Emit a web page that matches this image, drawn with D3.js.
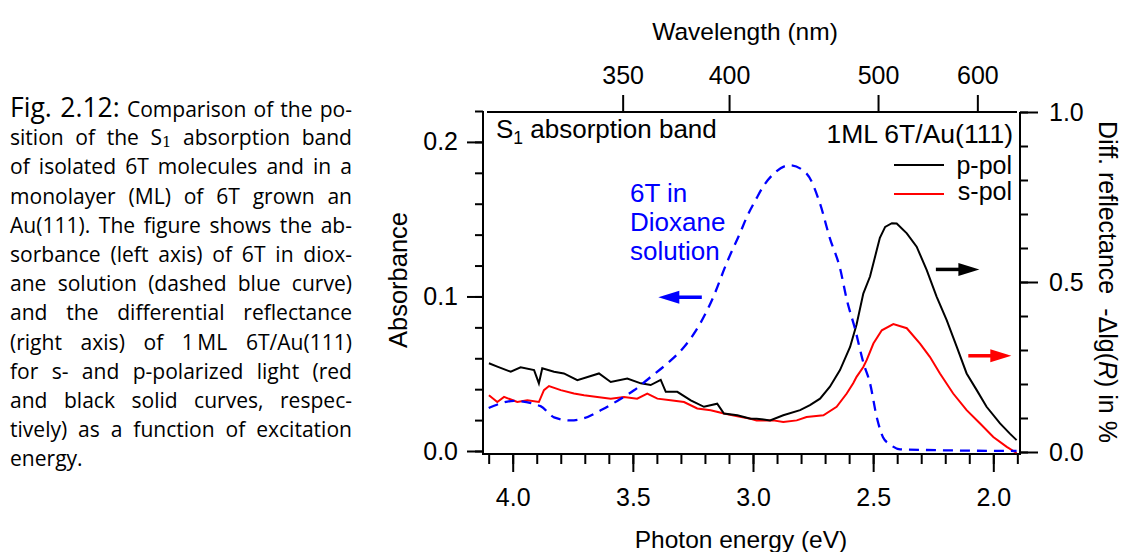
<!DOCTYPE html>
<html>
<head>
<meta charset="utf-8">
<script src="https://cdn.jsdelivr.net/npm/d3@7"></script>
<style>
    body { margin: 0; background: #fff; }
    #wrap { position: relative; width: 1122px; height: 552px; overflow: hidden; }
    #caption { position: absolute; left: 10px; top: 93px; width: 342px; font-family: 'Open Sans', sans-serif; font-size: 20px; color: #000; }
    #caption .ln { height: 29.2px; line-height: 29.2px; text-align: justify; text-align-last: justify; white-space: nowrap; }
    #caption .ln.last { text-align-last: left; }
    #caption .fig { font-size: 1.26em; }
    #caption sub { font-family: 'DejaVu Serif', serif; font-size: 0.7em; vertical-align: -0.12em; line-height: 0; }
    #chart { position: absolute; left: 0; top: 0; }
</style>
</head>
<body>
<div id="wrap">
    <div id="caption"></div>
    <svg id="chart" width="1122" height="552"></svg>
</div>
<script>
// Caption lines (as typeset in the reference)
const captionLines = [
    '<span class="fig">Fig. 2.12:</span> Comparison of the po-',
    'sition of the S<sub>1</sub> absorption band',
    'of isolated 6T molecules and in a',
    'monolayer (ML) of 6T grown an',
    'Au(111). The figure shows the ab-',
    'sorbance (left axis) of 6T in diox-',
    'ane solution (dashed blue curve)',
    'and the differential reflectance',
    '(right axis) of 1\u2009ML 6T/Au(111)',
    'for s- and p-polarized light (red',
    'and black solid curves, respec-',
    'tively) as a function of excitation',
    'energy.'
];

// 6T in dioxane: absorbance (left axis)
const blueEnergy = [4.100, 3.995, 3.884, 3.828, 3.759, 3.703, 3.634, 3.565, 3.495, 3.426,
    3.357, 3.287, 3.239, 3.165, 3.110, 3.054, 3.026, 2.985, 2.957, 2.916,
    2.846, 2.777, 2.721, 2.680, 2.638, 2.609, 2.576, 2.540, 2.513, 2.484,
    2.459, 2.430, 2.388, 2.222, 1.903];
const blueAbs = [0.0278, 0.0324, 0.0290, 0.0218, 0.0198, 0.0212, 0.0263, 0.0324, 0.0393, 0.0479,
    0.0566, 0.0673, 0.0775, 0.0997, 0.1215, 0.1410, 0.1513, 0.1636, 0.1713, 0.1791,
    0.1849, 0.1795, 0.1600, 0.1376, 0.1183, 0.0975, 0.0794, 0.0568, 0.0438, 0.0212,
    0.0089, 0.0043, 0.0011, 0.0005, 0.0];

// 1ML 6T/Au(111), p-pol: differential reflectance (right axis, %)
const pEnergy = [4.099, 4.064, 4.008, 3.967, 3.911, 3.891, 3.877, 3.828, 3.787, 3.731,
    3.641, 3.592, 3.523, 3.467, 3.426, 3.384, 3.363, 3.315, 3.259, 3.204,
    3.149, 3.121, 3.065, 3.010, 2.985, 2.929, 2.874, 2.804, 2.763, 2.721,
    2.680, 2.638, 2.596, 2.569, 2.541, 2.513, 2.485, 2.472, 2.450, 2.422, 2.402,
    2.360, 2.319, 2.277, 2.236, 2.194, 2.152, 2.111, 2.069, 2.028, 1.972,
    1.931, 1.903];
const pDiff = [0.261, 0.251, 0.236, 0.249, 0.241, 0.202, 0.246, 0.236, 0.231, 0.211,
    0.231, 0.206, 0.216, 0.202, 0.197, 0.212, 0.177, 0.177, 0.152, 0.133,
    0.142, 0.113, 0.108, 0.098, 0.098, 0.093, 0.108, 0.123, 0.138, 0.157,
    0.192, 0.241, 0.309, 0.375, 0.466, 0.516, 0.594, 0.630, 0.662, 0.673, 0.672,
    0.643, 0.604, 0.535, 0.457, 0.388, 0.309, 0.231, 0.182, 0.133, 0.084,
    0.054, 0.035];

// 1ML 6T/Au(111), s-pol
const sEnergy = [4.099, 4.064, 4.036, 3.981, 3.939, 3.891, 3.870, 3.849, 3.800, 3.745,
    3.703, 3.648, 3.592, 3.537, 3.482, 3.440, 3.398, 3.343, 3.287, 3.232,
    3.176, 3.121, 3.065, 3.010, 2.985, 2.916, 2.874, 2.818, 2.777, 2.707,
    2.652, 2.610, 2.583, 2.569, 2.541, 2.527, 2.499, 2.464, 2.416, 2.360,
    2.305, 2.264, 2.222, 2.167, 2.111, 2.055, 2.000, 1.944, 1.903];
const sDiff = [0.167, 0.147, 0.162, 0.147, 0.152, 0.147, 0.182, 0.194, 0.182, 0.172,
    0.167, 0.162, 0.157, 0.162, 0.157, 0.172, 0.157, 0.152, 0.147, 0.128,
    0.123, 0.113, 0.105, 0.098, 0.093, 0.093, 0.088, 0.093, 0.103, 0.108,
    0.133, 0.172, 0.202, 0.221, 0.250, 0.270, 0.319, 0.358, 0.376, 0.364,
    0.319, 0.280, 0.231, 0.172, 0.123, 0.084, 0.044, 0.015, -0.003];

// Axis ticks
const energyMajor = [4.0, 3.5, 3.0, 2.5, 2.0];
const wavelengthTicks = [350, 400, 500, 600];
const absMajor = [0.0, 0.1, 0.2];
const diffMajor = [0.0, 0.5, 1.0];

const HC = 1239.84; // eV nm

function drawCaption() {
    const cap = d3.select('#caption');

    // size the caption font so the widest line just fills the column
    const probe = cap.append('span').style('white-space', 'nowrap').style('visibility', 'hidden')
        .style('position', 'absolute');
    let widest = 0;
    captionLines.forEach(l => {
        probe.html(l);
        widest = Math.max(widest, probe.node().getBoundingClientRect().width);
    });
    probe.remove();
    const size = 20 * 334 / widest;
    cap.style('font-size', size + 'px');

    cap.selectAll('.ln')
        .data(captionLines)
        .enter()
        .append('div')
        .attr('class', (d, i) => i === captionLines.length - 1 ? 'ln last' : 'ln')
        .html(d => d);
}

function drawChart() {
    const svg = d3.select('#chart');
    const font = "'Liberation Sans', Arial, sans-serif";

    // plot frame in pixels
    const left = 483, right = 1020, top = 112, bottom = 454;

    const x = d3.scaleLinear().domain([4.1236, 1.8889]).range([left, right]);
    const yL = d3.scaleLinear().domain([0, 0.22]).range([451, 111]);
    const yR = d3.scaleLinear().domain([0, 1]).range([452, 112]);

    // Frame
    const frame = svg.append('g').attr('stroke', '#000').attr('stroke-width', 2);
    frame.append('line').attr('x1', left).attr('x2', left).attr('y1', 111).attr('y2', bottom + 1);
    frame.append('line').attr('x1', left).attr('x2', right + 1).attr('y1', bottom).attr('y2', bottom);
    frame.append('line').attr('x1', right).attr('x2', right).attr('y1', top).attr('y2', bottom + 1);
    frame.append('line').attr('x1', left + 4).attr('x2', right - 3).attr('y1', top).attr('y2', top);

    function styleAxis(g) {
        g.select('.domain').remove();
        g.selectAll('line').attr('stroke', '#000').attr('stroke-width', 2);
        g.selectAll('text').attr('fill', '#000').attr('font-family', font).attr('font-size', '25px');
    }

    // Bottom axis: photon energy
    svg.append('g')
        .attr('transform', `translate(0,${bottom})`)
        .call(d3.axisBottom(x).tickValues(d3.range(19, 42).map(d => d / 10)).tickSize(10).tickFormat(''))
        .call(styleAxis);
    svg.append('g')
        .attr('transform', `translate(0,${bottom})`)
        .call(d3.axisBottom(x).tickValues(energyMajor).tickSize(18).tickPadding(16).tickFormat(d3.format('.1f')))
        .call(styleAxis);

    // Top axis: wavelength
    svg.append('g')
        .attr('transform', `translate(0,${top})`)
        .call(d3.axisTop(x).tickValues(wavelengthTicks.map(nm => HC / nm)).tickSize(17).tickPadding(11)
            .tickFormat(e => Math.round(HC / e)))
        .call(styleAxis);

    // Left axis: absorbance
    svg.append('g')
        .attr('transform', `translate(${left},0)`)
        .call(d3.axisLeft(yL).tickValues(d3.range(0, 12).map(d => d * 0.02)).tickSize(8).tickFormat(''))
        .call(styleAxis);
    svg.append('g')
        .attr('transform', `translate(${left},0)`)
        .call(d3.axisLeft(yL).tickValues(absMajor).tickSize(16).tickPadding(9).tickFormat(d3.format('.1f')))
        .call(styleAxis);

    // Right axis: differential reflectance
    svg.append('g')
        .attr('transform', `translate(${right},0)`)
        .call(d3.axisRight(yR).tickValues(d3.range(0, 11).map(d => d / 10)).tickSize(8).tickFormat(''))
        .call(styleAxis);
    svg.append('g')
        .attr('transform', `translate(${right},0)`)
        .call(d3.axisRight(yR).tickValues(diffMajor).tickSize(18).tickPadding(11).tickFormat(d3.format('.1f')))
        .call(styleAxis);

    // Axis titles
    svg.append('text')
        .attr('x', 745).attr('y', 40)
        .attr('text-anchor', 'middle')
        .attr('font-family', font).attr('font-size', '24.5px')
        .text('Wavelength (nm)');

    svg.append('text')
        .attr('x', 741).attr('y', 548)
        .attr('text-anchor', 'middle')
        .attr('font-family', font).attr('font-size', '24.5px')
        .text('Photon energy (eV)');

    svg.append('text')
        .attr('transform', 'translate(407,280) rotate(-90)')
        .attr('text-anchor', 'middle')
        .attr('font-family', font).attr('font-size', '25.5px')
        .text('Absorbance');

    const rLabel = svg.append('text')
        .attr('transform', 'translate(1099,282) rotate(90)')
        .attr('text-anchor', 'middle')
        .attr('font-family', font).attr('font-size', '25px')
        .attr('xml:space', 'preserve');
    rLabel.append('tspan').text('Diff. reflectance\u00a0\u00a0-\u0394lg(');
    rLabel.append('tspan').attr('font-style', 'italic').text('R');
    rLabel.append('tspan').text(') in %');

    // Curves
    const blueData = blueEnergy.map((e, i) => ({ e, v: blueAbs[i] }));
    const pData = pEnergy.map((e, i) => ({ e, v: pDiff[i] }));
    const sData = sEnergy.map((e, i) => ({ e, v: sDiff[i] }));

    const lineL = d3.line().x(d => x(d.e)).y(d => yL(d.v)).curve(d3.curveMonotoneX);
    const lineR = d3.line().x(d => x(d.e)).y(d => yR(d.v));

    svg.append('path')
        .datum(sData)
        .attr('d', lineR)
        .attr('fill', 'none')
        .attr('stroke', '#ff0000')
        .attr('stroke-width', 2);

    svg.append('path')
        .datum(pData)
        .attr('d', lineR)
        .attr('fill', 'none')
        .attr('stroke', '#000')
        .attr('stroke-width', 2);

    svg.append('path')
        .datum(blueData)
        .attr('d', lineL)
        .attr('fill', 'none')
        .attr('stroke', '#0000ff')
        .attr('stroke-width', 2.3)
        .attr('stroke-dasharray', '10,7');

    // Annotations
    const s1 = svg.append('text')
        .attr('x', 496).attr('y', 138)
        .attr('font-family', font).attr('font-size', '26px');
    s1.append('tspan').text('S');
    s1.append('tspan').attr('dy', 6).attr('font-size', '17.5px').text('1');
    s1.append('tspan').attr('dy', -6).text(' absorption band');

    svg.append('text')
        .attr('x', 1013).attr('y', 143)
        .attr('text-anchor', 'end')
        .attr('font-family', font).attr('font-size', '26.5px')
        .text('1ML 6T/Au(111)');

    // Legend
    const legend = [
        { label: 'p-pol', color: '#000', y: 174, ly: 165 },
        { label: 's-pol', color: '#ff0000', y: 200, ly: 194 }
    ];
    const lg = svg.selectAll('.legend')
        .data(legend)
        .enter()
        .append('g')
        .attr('class', 'legend');
    lg.append('line')
        .attr('x1', 894).attr('x2', 944)
        .attr('y1', d => d.ly).attr('y2', d => d.ly)
        .attr('stroke', d => d.color)
        .attr('stroke-width', 2);
    lg.append('text')
        .attr('x', 1012).attr('y', d => d.y)
        .attr('text-anchor', 'end')
        .attr('font-family', font).attr('font-size', '25px')
        .text(d => d.label);

    // Blue label
    svg.selectAll('.blue-label')
        .data(['6T in', 'Dioxane', 'solution'])
        .enter()
        .append('text')
        .attr('class', 'blue-label')
        .attr('x', 630)
        .attr('y', (d, i) => 202 + i * 29)
        .attr('fill', '#0000ff')
        .attr('font-family', font).attr('font-size', '26px')
        .text(d => d);

    // Arrows
    function arrow(x1, x2, y, color) {
        const dir = Math.sign(x2 - x1);
        const headLen = 21, half = 6.5;
        const g = svg.append('g');
        g.append('line')
            .attr('x1', x1).attr('x2', x2 - dir * headLen + dir)
            .attr('y1', y).attr('y2', y)
            .attr('stroke', color).attr('stroke-width', 3.5);
        g.append('path')
            .attr('d', `M${x2},${y} L${x2 - dir * headLen},${y - half} L${x2 - dir * headLen},${y + half} Z`)
            .attr('fill', color);
    }
    arrow(x(3.213), x(3.394), yL(0.0995), '#0000ff');
    arrow(x(2.239), x(2.058), yR(0.537), '#000');
    arrow(x(2.104), x(1.925), yR(0.283), '#ff0000');
}

drawCaption();
drawChart();
</script>
</body>
</html>
